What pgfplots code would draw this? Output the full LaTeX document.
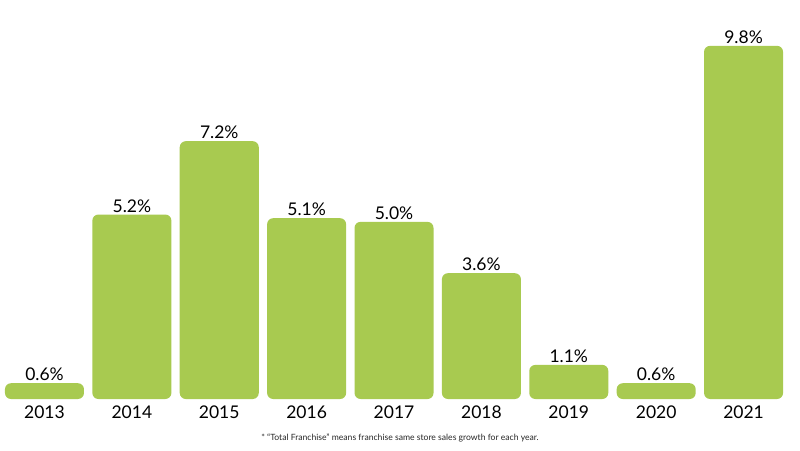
\documentclass[border=0pt]{standalone}
\usepackage{pgfplots}
\pgfplotsset{compat=1.18}
\usepackage{fontspec}
\setmainfont{Lato}
\definecolor{bargreen}{RGB}{168,202,80}
\begin{document}
\begin{tikzpicture}
\useasboundingbox (0pt,-51pt) rectangle (800pt,399pt);
\begin{axis}[
  at={(0pt,0pt)}, anchor=south west,
  width=800pt, height=399pt, scale only axis,
  xmin=-0.509, xmax=8.646, ymin=0.17, ymax=11.05,
  axis line style={draw=none},
  major tick length=0pt,
  ytick=\empty,
  xtick={0,1,2,3,4,5,6,7,8},
  xticklabels={2013,2014,2015,2016,2017,2018,2019,2020,2021},
  xticklabel style={font=\fontsize{17.5}{20}\selectfont, inner sep=0pt, yshift=-6.5pt, anchor=north, text=black},
  ybar, bar width=79pt,
  /pgf/number format/assume math mode=true,
  nodes near coords={\pgfmathprintnumber[fixed, fixed zerofill, precision=1]{\pgfplotspointmeta}\%},
  every node near coord/.append style={font=\fontsize{17.5}{20}\selectfont, inner sep=2pt, text=black},
  clip=true,
]
\addplot[fill=bargreen, draw=none, rounded corners=6pt] coordinates {
  (0,0.6) (1,5.2) (2,7.2) (3,5.1) (4,5.0) (5,3.6) (6,1.1) (7,0.6) (8,9.8)
};
\end{axis}
\node[font=\fontsize{8.6}{10}\selectfont, text=black!85] at (400pt,-38.5pt) {* “Total Franchise” means franchise same store sales growth for each year.};
\end{tikzpicture}
\end{document}
